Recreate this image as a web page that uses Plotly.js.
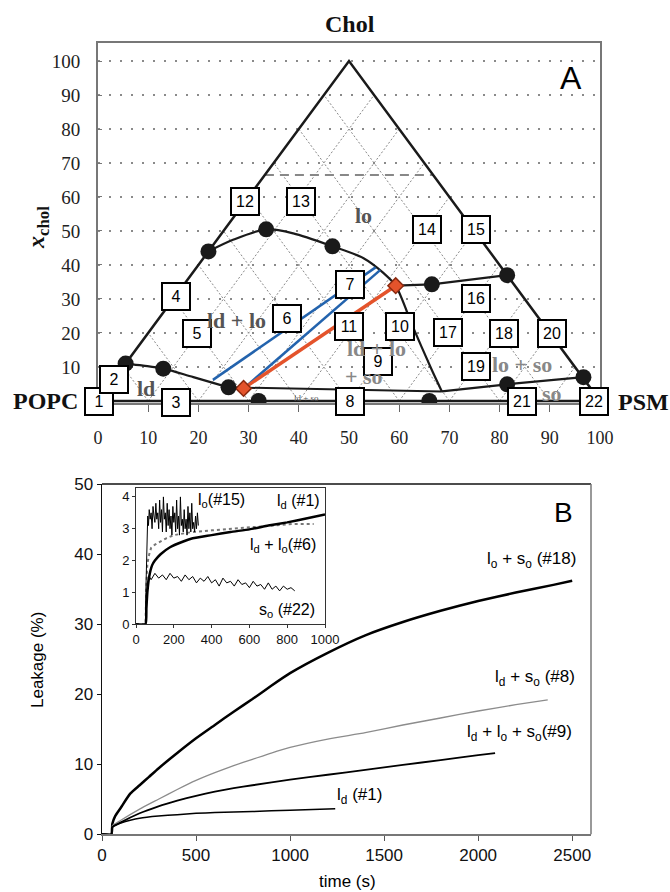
<!DOCTYPE html>
<html><head><meta charset="utf-8">
<script src="https://cdn.plot.ly/plotly-3.0.1.min.js"></script>
<style>html,body{margin:0;padding:0;background:#fff}#chart{width:670px;height:892px}</style>
</head><body><div id="chart"></div>
<script>
// ================= Panel A: ternary phase diagram (x = PSM + Chol/2, y = x_chol) =================
const gridLevels = [10,20,30,40,50,60,70,80,90];
const triangleX = [0,50,100,0];
const triangleY = [0,100,0,0];
const cholLimitX = [33.25,66.75];
const cholLimitY = [66.5,66.5];
const ldBoundaryX = [5.5, 9, 13, 19, 26];
const ldBoundaryY = [11, 10.4, 9.5, 7.0, 4];
const loBoundaryX = [22, 26.9, 33.5, 38.9, 46.7, 52.9, 56.9, 59.3, 62.7, 66.5, 68.5];
const loBoundaryY = [44, 47.4, 50.5, 49.3, 45.5, 42, 37.6, 33.9, 21.9, 9.1, 2.8];
const threePhaseX = [26, 68.5];
const threePhaseY = [4, 2.8];
const loSoX = [59.3, 66.5, 81.5];
const loSoY = [33.9, 34.3, 37];
const soBoundX = [68.5, 81.5, 96.7];
const soBoundY = [2.8, 4.9, 7];
const dotsX = [5.5, 13, 26, 32, 22, 33.5, 46.7, 66.5, 81.5, 66, 81.5, 96.7];
const dotsY = [11, 9.5, 4, 0, 44, 50.5, 45.5, 34.3, 37, 0, 4.9, 7];
const tieBlueAX = [22.9, 55.3], tieBlueAY = [6.2, 39.3];
const tieBlueBX = [29.5, 56.2], tieBlueBY = [4.3, 38.5];
const tieOrangeX = [29, 59.3], tieOrangeY = [3.7, 33.9];
const boxLabels = ['1','2','3','4','5','6','7','8','9','10','11','12','13','14','15','16','17','18','19','20','21','22'];
const boxX = [0.2, 3.1, 15.5, 15.5, 19.7, 37.7, 50.1, 50.2, 55.7, 60.2, 49.9, 29.3, 40.5, 65.5, 75.2, 75.2, 69.7, 80.9, 75.2, 90.4, 84.5, 98.9];
const boxY = [-0.2, 6.2, -0.4, 30.7, 19.9, 24.3, 34.4, -0.2, 11.6, 21.9, 21.9, 58.8, 58.8, 50.3, 50.3, 30, 20.1, 19.9, 10.1, 19.9, -0.2, -0.2];
const phaseText = ['lo', 'ld + lo', 'ld', 'ld + lo', '+ so', 'lo + so', 'so'];
const phaseX = [52.9, 27.5, 9.5, 55.5, 52.9, 84.5, 90.5];
const phaseY = [54.7, 23.8, 3.7, 15.5, 7.1, 10.6, 2.2];
const phaseColor = ['#555', '#555', '#555', '#888', '#888', '#888', '#888'];
const aTicks = [0,10,20,30,40,50,60,70,80,90,100];
const aYTicks = [10,20,30,40,50,60,70,80,90,100];

// ================= Panel B: leakage kinetics =================
const loSoT  = [0, 50, 55, 70, 100, 150, 200, 250, 300, 400, 500, 600, 700, 800, 900, 1000, 1200, 1400, 1600, 1800, 2000, 2200, 2400, 2500];
const loSoL  = [0, 0, 1.5, 2.6, 3.8, 5.8, 7.0, 8.2, 9.4, 11.6, 13.7, 15.6, 17.5, 19.3, 21.2, 23.0, 25.9, 28.4, 30.3, 31.9, 33.3, 34.5, 35.6, 36.2];
const ldSoT  = [0, 50, 55, 100, 200, 300, 400, 500, 600, 700, 800, 900, 1000, 1200, 1400, 1600, 1800, 2000, 2200, 2370];
const ldSoL  = [0, 0, 1.2, 2.0, 3.6, 5.0, 6.4, 7.7, 8.8, 9.8, 10.7, 11.6, 12.4, 13.6, 14.5, 15.6, 16.6, 17.6, 18.5, 19.2];
const ldLoSoT = [0, 50, 55, 100, 200, 300, 400, 500, 600, 700, 800, 1000, 1200, 1400, 1600, 1800, 2000, 2090];
const ldLoSoL = [0, 0, 1.0, 1.7, 3.0, 4.0, 4.8, 5.5, 6.1, 6.6, 7.0, 7.8, 8.5, 9.2, 9.9, 10.6, 11.3, 11.6];
const ldT = [0, 50, 52, 70, 100, 150, 200, 300, 400, 500, 600, 800, 1000, 1240];
const ldL = [0, 0, 1.0, 1.3, 1.6, 2.0, 2.3, 2.6, 2.8, 3.0, 3.1, 3.25, 3.45, 3.65];
const bXTicks = [0, 500, 1000, 1500, 2000, 2500];
const bYTicks = [0, 10, 20, 30, 40, 50];

// ---- inset ----
const inLdT = [0, 50, 55, 60, 70, 85, 100, 130, 180, 250, 300, 400, 500, 600, 700, 800, 900, 1000];
const inLdL = [0, 0, 0.5, 1.0, 1.5, 1.85, 2.0, 2.2, 2.42, 2.6, 2.7, 2.8, 2.9, 2.98, 3.1, 3.2, 3.32, 3.45];
const inLdLoT = [0, 50, 55, 60, 70, 80, 100, 130, 160, 200, 250, 300, 400, 500, 600, 700, 830, 940];
const inLdLoL = [0, 0, 1.2, 1.9, 2.2, 2.4, 2.5, 2.6, 2.7, 2.8, 2.85, 2.9, 2.95, 3.0, 3.05, 3.1, 3.15, 3.15];
const inLoT = [0, 50, 52, 55, 58, 62, 66, 70, 75, 80, 85, 90, 95, 100, 105, 110, 115, 120, 125, 130, 135, 140, 145, 150, 155, 160, 165, 170, 175, 180, 185, 190, 195, 200, 205, 210, 215, 220, 225, 230, 235, 240, 245, 250, 255, 260, 265, 270, 275, 280, 285, 290, 295, 300, 305, 310, 315, 320, 325, 330];
const inLoL = [0, 0, 1.0, 2.2, 3.0, 3.4, 3.1, 3.6, 3.3, 3.5, 3.0, 3.7, 3.4, 3.2, 3.8, 3.3, 3.5, 3.0, 3.9, 3.2, 3.6, 2.9, 4.0, 3.3, 3.5, 2.9, 3.8, 3.1, 3.6, 3.0, 3.4, 2.8, 3.7, 3.2, 3.5, 2.9, 3.9, 3.0, 3.4, 2.8, 4.0, 3.1, 3.3, 2.9, 3.6, 3.0, 3.3, 2.8, 3.7, 3.0, 3.5, 2.9, 3.8, 3.0, 3.2, 2.9, 3.4, 3.0, 3.5, 3.1];
const inSoT = [0, 50, 55, 60, 70, 80, 100, 120, 140, 160, 180, 200, 220, 240, 260, 280, 300, 320, 340, 360, 380, 400, 420, 440, 460, 480, 500, 520, 540, 560, 580, 600, 620, 640, 660, 680, 700, 720, 740, 760, 780, 800, 820, 840];
const inSoL = [0, 0, 0.8, 1.3, 1.5, 1.4, 1.6, 1.45, 1.55, 1.4, 1.6, 1.45, 1.5, 1.35, 1.55, 1.4, 1.5, 1.3, 1.45, 1.35, 1.5, 1.3, 1.4, 1.2, 1.45, 1.3, 1.35, 1.2, 1.4, 1.25, 1.3, 1.15, 1.35, 1.2, 1.25, 1.1, 1.3, 1.1, 1.2, 1.05, 1.2, 1.1, 1.15, 1.05];
const inXTicks = [0, 200, 400, 600, 800, 1000];
const inYTicks = [0, 1, 2, 3, 4];

// ================= build =================
const SERIF = 'Liberation Serif, Times New Roman, serif';
const SANS = 'Liberation Sans, Arial, sans-serif';

// ternary grid lines (parallel to the two slanted edges)
const gx = [], gy = [];
gridLevels.forEach(s => { gx.push(s, s + (100 - s) / 2, null); gy.push(0, 100 - s, null); });
gridLevels.forEach(k => { gx.push(k, k / 2, null); gy.push(0, k, null); });

const A = (o) => Object.assign({xaxis: 'x', yaxis: 'y', mode: 'lines', hoverinfo: 'skip', showlegend: false}, o);
const B = (o) => Object.assign({xaxis: 'x2', yaxis: 'y2', mode: 'lines', hoverinfo: 'skip', showlegend: false}, o);
const C = (o) => Object.assign({xaxis: 'x3', yaxis: 'y3', mode: 'lines', hoverinfo: 'skip', showlegend: false}, o);

const traces = [
  A({x: gx, y: gy, line: {color: '#888', width: 1, dash: '2px,2px'}}),
  A({x: cholLimitX, y: cholLimitY, line: {color: '#888', width: 2, dash: '9px,6px'}}),
  A({x: triangleX, y: triangleY, line: {color: '#1a1a1a', width: 2.5}}),
  A({x: ldBoundaryX, y: ldBoundaryY, line: {color: '#1a1a1a', width: 2.2, shape: 'spline'}}),
  A({x: loBoundaryX, y: loBoundaryY, line: {color: '#1a1a1a', width: 2.2, shape: 'spline', smoothing: 0.8}}),
  A({x: threePhaseX, y: threePhaseY, line: {color: '#1a1a1a', width: 2}}),
  A({x: loSoX, y: loSoY, line: {color: '#1a1a1a', width: 2.2}}),
  A({x: soBoundX, y: soBoundY, line: {color: '#1a1a1a', width: 2.2}}),
  A({x: tieBlueAX, y: tieBlueAY, line: {color: '#2363ad', width: 2.5}}),
  A({x: tieBlueBX, y: tieBlueBY, line: {color: '#2363ad', width: 2.5}}),
  A({x: tieOrangeX, y: tieOrangeY, line: {color: '#e4532b', width: 3.5}}),
  A({x: tieOrangeX, y: tieOrangeY, mode: 'markers', marker: {symbol: 'diamond', size: 12, color: '#e4532b', line: {color: '#8a2a10', width: 1.5}}}),
  A({x: dotsX, y: dotsY, mode: 'markers', marker: {size: 16, color: '#1a1a1a'}}),

  B({x: loSoT, y: loSoL, line: {color: '#000', width: 2.5, shape: 'spline', smoothing: 0.5}}),
  B({x: ldSoT, y: ldSoL, line: {color: '#8c8c8c', width: 1.3, shape: 'spline', smoothing: 0.5}}),
  B({x: ldLoSoT, y: ldLoSoL, line: {color: '#000', width: 1.8, shape: 'spline', smoothing: 0.5}}),
  B({x: ldT, y: ldL, line: {color: '#000', width: 1.5, shape: 'spline', smoothing: 0.5}}),

  C({x: inLdLoT, y: inLdLoL, line: {color: '#777', width: 2, dash: 'dot'}}),
  C({x: inLdT, y: inLdL, line: {color: '#000', width: 2.5, shape: 'spline', smoothing: 0.5}}),
  C({x: inLoT, y: inLoL, line: {color: '#000', width: 1}}),
  C({x: inSoT, y: inSoL, line: {color: '#000', width: 1}}),
];

const annotations = [];
boxLabels.forEach((t, i) => annotations.push({
  xref: 'x', yref: 'y', x: boxX[i], y: boxY[i], text: t, showarrow: false, xanchor: 'center', yanchor: 'middle',
  font: {family: SANS, size: 16, color: '#000'}, bgcolor: '#fff', bordercolor: '#000', borderwidth: 2,
  borderpad: 2, width: 22, height: 21
}));
phaseText.forEach((t, i) => annotations.push({
  xref: 'x', yref: 'y', x: phaseX[i], y: phaseY[i], text: '<b>' + t + '</b>', showarrow: false, xanchor: 'center', yanchor: 'middle',
  font: {family: SERIF, size: 22, color: phaseColor[i]}
}));
annotations.push({xref: 'x', yref: 'y', x: 41.5, y: 0.9, text: 'ld + so', showarrow: false, xanchor: 'center', yanchor: 'middle', font: {family: SERIF, size: 9, color: '#555'}});
const P = (x, y, text, size, extra) => Object.assign({xref: 'paper', yref: 'paper', x: x / 670, y: 1 - y / 892, text, showarrow: false, xanchor: 'center', yanchor: 'middle', font: {family: SANS, size, color: '#000'}}, extra || {});
annotations.push(P(350, 24, '<b>Chol</b>', 24, {font: {family: SERIF, size: 24, color: '#111'}}));
annotations.push(P(45, 401, '<b>POPC</b>', 24, {font: {family: SERIF, size: 24, color: '#111'}}));
annotations.push(P(643, 402, '<b>PSM</b>', 24, {font: {family: SERIF, size: 24, color: '#111'}}));
annotations.push(P(38, 228, '<b><i>x</i></b><sub><b>chol</b></sub>', 24, {textangle: -90, font: {family: SERIF, size: 24, color: '#111'}}));
annotations.push(P(571, 78, 'A', 32));
annotations.push(P(563, 512, 'B', 28));
annotations.push(P(347, 881, 'time (s)', 17));
annotations.push(P(37, 660, 'Leakage (%)', 17, {textangle: -90}));
const L = (ax, x, y, text, size) => ({xref: 'x' + ax, yref: 'y' + ax, x, y, text, showarrow: false, xanchor: 'center', yanchor: 'middle', font: {family: SANS, size, color: '#000'}});
// panel B labels
annotations.push(L(2, 2284, 39.2, 'l<sub>o</sub> + s<sub>o</sub> (#18)', 17));
annotations.push(L(2, 2301, 22.3, 'l<sub>d</sub> + s<sub>o</sub> (#8)', 17));
annotations.push(L(2, 2221, 14.4, 'l<sub>d</sub> + l<sub>o</sub> + s<sub>o</sub>(#9)', 17));
annotations.push(L(2, 1371, 5.4, 'l<sub>d</sub> (#1)', 17));
// inset labels
annotations.push(L(3, 453, 3.89, 'l<sub>o</sub>(#15)', 16));
annotations.push(L(3, 859, 3.84, 'l<sub>d</sub> (#1)', 16));
annotations.push(L(3, 779, 2.47, 'l<sub>d</sub> + l<sub>o</sub>(#6)', 16));
annotations.push(L(3, 797, 0.42, 's<sub>o</sub> (#22)', 16));

const layout = {
  width: 670, height: 892, margin: {l: 0, r: 0, t: 0, b: 0},
  paper_bgcolor: '#fff', plot_bgcolor: '#fff', showlegend: false,
  xaxis: {domain: [98/670, 600/670], range: [0, 100], anchor: 'y', tickvals: aTicks, ticks: 'outside', ticklen: 7, tickcolor: '#666',
    showgrid: false, zeroline: false, showline: true, mirror: true, linecolor: '#777', linewidth: 2,
    tickfont: {family: SERIF, size: 18, color: '#222'}, ticklabelstandoff: 10, fixedrange: true},
  yaxis: {domain: [1 - 403/892, 1 - 43/892], range: [-0.6, 105.3], anchor: 'x', tickvals: aYTicks, ticks: 'inside', ticklen: 4, tickcolor: '#777',
    showgrid: true, gridcolor: '#8a8a8a', gridwidth: 2, griddash: '2px,9px', zeroline: false,
    showline: true, mirror: true, linecolor: '#777', linewidth: 2,
    tickfont: {family: SERIF, size: 19, color: '#222'}, ticklabelstandoff: 12, fixedrange: true},
  xaxis2: {domain: [102/670, 591/670], range: [0, 2600], anchor: 'y2', tickvals: bXTicks, ticks: 'outside', ticklen: 5, tickcolor: '#555',
    showgrid: false, zeroline: false, showline: true, linecolor: '#777', linewidth: 1.5,
    tickfont: {family: SANS, size: 17, color: '#111'}, fixedrange: true},
  yaxis2: {domain: [1 - 834.3/892, 1 - 484/892], range: [0, 50], anchor: 'x2', tickvals: bYTicks, ticks: 'outside', ticklen: 4, tickcolor: '#111',
    showgrid: false, zeroline: false, showline: true, linecolor: '#111', linewidth: 1.5,
    tickfont: {family: SANS, size: 17, color: '#111'}, fixedrange: true},
  xaxis3: {domain: [136/670, 325/670], range: [0, 1000], anchor: 'y3', tickvals: inXTicks, ticks: 'outside', ticklen: 3, tickcolor: '#333',
    showgrid: false, zeroline: false, showline: true, mirror: true, linecolor: '#333', linewidth: 1,
    tickfont: {family: SANS, size: 13, color: '#111'}, fixedrange: true},
  yaxis3: {domain: [1 - 624.3/892, 1 - 488.3/892], range: [0, 4.27], anchor: 'x3', tickvals: inYTicks, ticks: 'outside', ticklen: 3, tickcolor: '#333',
    showgrid: false, zeroline: false, showline: true, mirror: true, linecolor: '#333', linewidth: 1,
    tickfont: {family: SANS, size: 13, color: '#111'}, fixedrange: true},
  shapes: [
    {type: 'line', xref: 'x2 domain', yref: 'y2 domain', x0: 0, x1: 1, y0: 1, y1: 1, line: {color: '#111', width: 1.5}},
    {type: 'line', xref: 'x2 domain', yref: 'y2 domain', x0: 1, x1: 1, y0: 0, y1: 1, line: {color: '#777', width: 1.5}}
  ],
  annotations
};

Plotly.newPlot('chart', traces, layout, {staticPlot: true, displayModeBar: false});
</script></body></html>
